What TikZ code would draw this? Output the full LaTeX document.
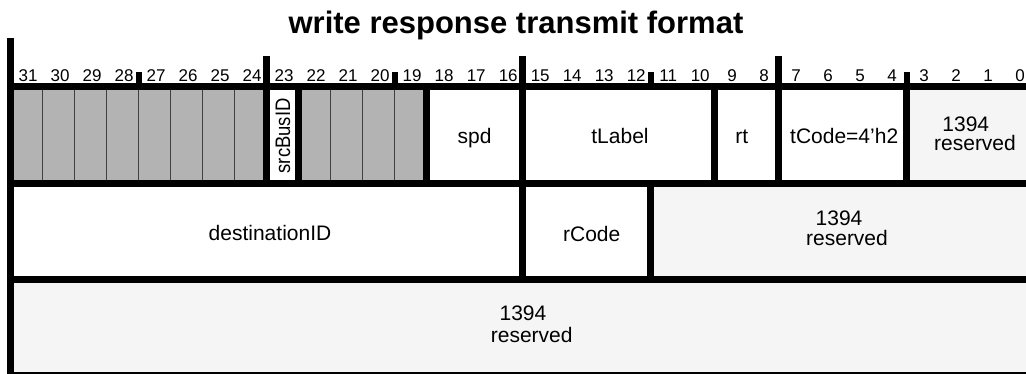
\documentclass[tikz,border=0pt]{standalone}
\usepackage{fontspec}
\setmainfont{Liberation Sans}
\usepackage{graphicx}
\definecolor{cellgray}{HTML}{B3B3B3}
\definecolor{resgray}{HTML}{F5F5F5}
\definecolor{thingray}{HTML}{404040}
\tikzset{
  bar/.style={line width=6.7pt, black},
  smalltick/.style={line width=6pt, black},
  thinsep/.style={line width=1pt, thingray},
  bitnum/.style={font=\fontsize{17}{17}\selectfont, anchor=base, inner sep=0pt},
  lbl/.style={font=\fontsize{21}{21}\selectfont, anchor=base, inner sep=0pt},
  titlestyle/.style={font=\fontsize{31}{31}\bfseries\selectfont, anchor=base, inner sep=0pt}
}
\begin{document}
\begin{tikzpicture}[x=1pt,y=-1pt]
\useasboundingbox (0,0) rectangle (1026,373);
\clip (0,0) rectangle (1026,373);
% fills
\fill[cellgray] (10.7,86.5) rectangle (266.7,183.5);
\fill[cellgray] (298.7,86.5) rectangle (426.7,183.5);
\fill[resgray] (906.7,86.5) rectangle (1040,183.5);
\fill[resgray] (650.7,183.5) rectangle (1040,279.3);
\fill[resgray] (10.7,279.3) rectangle (1040,380);
% thin separators between single reserved bits
\foreach \i in {1,...,7,10,11,12}
  \draw[thinsep] ({10.7+32*\i},86.5) -- ({10.7+32*\i},183.5);
% horizontal rules
\foreach \yy in {86.5,183.5,279.3,375.5}
  \draw[bar] (10.7,\yy) -- (1040,\yy);
% left bar
\draw[bar] (10.7,38.3) -- (10.7,380);
% byte ticks and field separators
\draw[bar] (266.7,55.7) -- (266.7,183.5);
\draw[bar] (522.7,55.7) -- (522.7,279.3);
\draw[bar] (778.7,55.7) -- (778.7,183.5);
\draw[smalltick] (138.7,71.7) -- (138.7,86.5);
\draw[smalltick] (394.7,71.7) -- (394.7,86.5);
\draw[smalltick] (650.7,71.7) -- (650.7,86.5);
\draw[bar] (650.7,183.5) -- (650.7,279.3);
\draw[smalltick] (906.7,71.7) -- (906.7,86.5);
\draw[bar] (906.7,86.5) -- (906.7,183.5);
\draw[bar] (298.7,86.5) -- (298.7,183.5);
\draw[bar] (426.7,86.5) -- (426.7,183.5);
\draw[bar] (714.7,86.5) -- (714.7,183.5);
\draw[bar] (1034.7,86.5) -- (1034.7,380);
% bit numbers
\foreach \i [evaluate=\i as \n using int(31-\i)] in {0,...,31}
  \node[bitnum] (b\n) at ({28.2+32*\i},81.5) {\n};
% title
\node[titlestyle] (title) at (516,33.3) {write response transmit format};
% row 1 labels
\node[lbl, rotate=90] (srcbus) at (290,135.8) {\scalebox{0.88}[1]{srcBusID}};
\node[lbl] (spd) at (474.5,143.3) {spd};
\node[lbl] (tlabel) at (620,143.3) {tLabel};
\node[lbl] (rt) at (741.7,143.3) {rt};
\node[lbl] (tcode) at (844.2,143.3) {tCode=4’h2};
\node[lbl] (resa1) at (965.8,131.7) {1394};
\node[lbl] (resa2) at (975,150.7) {reserved};
% row 2 labels
\node[lbl] (dest) at (270,240) {destinationID};
\node[lbl] (rcode) at (591.7,241.5) {rCode};
\node[lbl] (resb1) at (839,225) {1394};
\node[lbl] (resb2) at (847,245) {reserved};
% row 3 labels
\node[lbl] (resc1) at (523,320.7) {1394};
\node[lbl] (resc2) at (531.7,342.3) {reserved};
\end{tikzpicture}
\end{document}
